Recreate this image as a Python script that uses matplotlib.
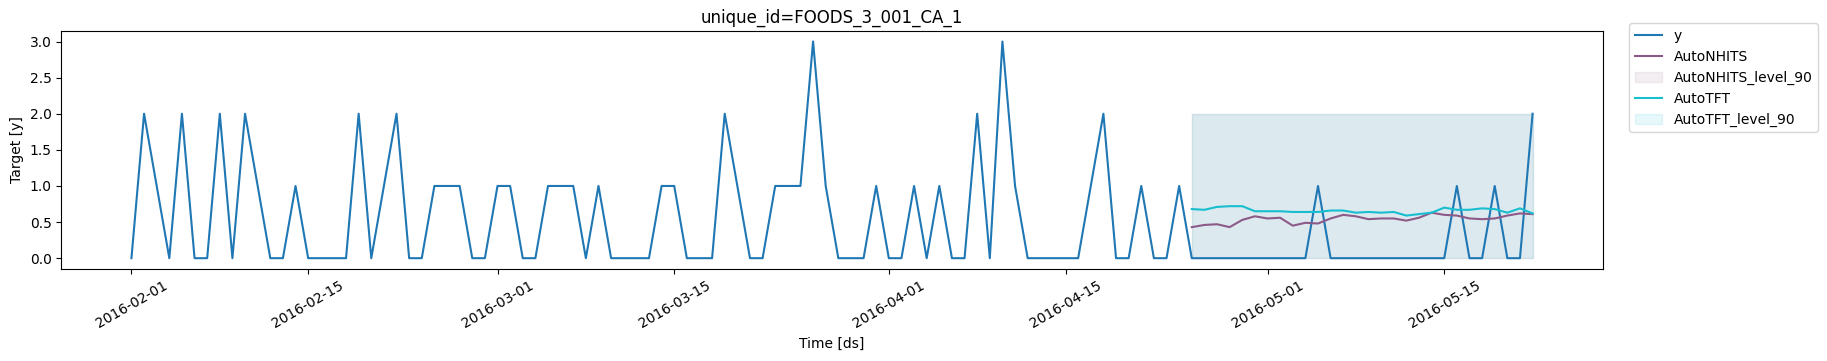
import numpy as np
import pandas as pd
import matplotlib
matplotlib.use("Agg")
import matplotlib.pyplot as plt

# History + actuals (daily, 2016-02-01 .. 2016-05-22)
start_date = "2016-02-01"
y_values = [
    0, 2, 1, 0, 2, 0, 0, 2, 0, 2, 1, 0, 0, 1, 0, 0, 0, 0, 2, 0,
    1, 2, 0, 0, 1, 1, 1, 0, 0, 1, 1, 0, 0, 1, 1, 1, 0, 1, 0, 0,
    0, 0, 1, 1, 0, 0, 0, 2, 1, 0, 0, 1, 1, 1, 3, 1, 0, 0, 0, 1,
    0, 0, 1, 0, 1, 0, 0, 2, 0, 3, 1, 0, 0, 0, 0, 0, 1, 2, 0, 0,
    1, 0, 0, 1, 0, 0, 0, 0, 0, 0, 0, 0, 0, 0, 1, 0, 0, 0, 0, 0,
    0, 0, 0, 0, 0, 1, 0, 0, 1, 0, 0, 2,
]

# Forecast horizon (2016-04-25 .. 2016-05-22)
forecast_start = "2016-04-25"
autonhits = [
    0.43, 0.46, 0.47, 0.43, 0.53, 0.58, 0.55, 0.56, 0.45, 0.49,
    0.48, 0.55, 0.60, 0.58, 0.54, 0.55, 0.55, 0.52, 0.56, 0.63,
    0.60, 0.59, 0.55, 0.54, 0.55, 0.59, 0.62, 0.61,
]
autotft = [
    0.68, 0.67, 0.71, 0.72, 0.72, 0.65, 0.65, 0.65, 0.64, 0.64,
    0.64, 0.66, 0.66, 0.63, 0.64, 0.63, 0.64, 0.59, 0.61, 0.63,
    0.70, 0.67, 0.67, 0.69, 0.68, 0.63, 0.69, 0.62,
]
autonhits_lo90 = [0.0] * 28
autonhits_hi90 = [2.0] * 28
autotft_lo90 = [0.0] * 28
autotft_hi90 = [2.0] * 28

ds = pd.date_range(start_date, periods=len(y_values), freq="D")
fds = pd.date_range(forecast_start, periods=len(autonhits), freq="D")

fig = plt.figure(figsize=(18.27, 3.61), dpi=100)
ax = fig.add_axes([0.0336, 0.2548, 0.8436, 0.6602])

c_y = "#1f77b4"
c_nhits = "#8c5a88"
c_tft = "#17becf"

ax.plot(ds, y_values, color=c_y, lw=1.5, label="y")
ax.plot(fds, autonhits, color=c_nhits, lw=1.5, label="AutoNHITS")
ax.fill_between(fds, autonhits_lo90, autonhits_hi90, color=c_nhits, alpha=0.1,
                label="AutoNHITS_level_90")
ax.plot(fds, autotft, color=c_tft, lw=1.5, label="AutoTFT")
ax.fill_between(fds, autotft_lo90, autotft_hi90, color=c_tft, alpha=0.1,
                label="AutoTFT_level_90")

ax.set_title("unique_id=FOODS_3_001_CA_1", fontsize=12)
ax.set_xlabel("Time [ds]")
ax.set_ylabel("Target [y]")

ticks = pd.to_datetime(["2016-02-01", "2016-02-15", "2016-03-01", "2016-03-15",
                        "2016-04-01", "2016-04-15", "2016-05-01", "2016-05-15"])
ax.set_xticks(ticks)
ax.set_xticklabels([t.strftime("%Y-%m-%d") for t in ticks], rotation=30, ha="center")
ax.set_yticks([0, 0.5, 1.0, 1.5, 2.0, 2.5, 3.0])

leg = ax.legend(loc="upper left", bbox_to_anchor=(1.0171, 1.032), borderaxespad=0)

fig.savefig("out.png", dpi=100)
